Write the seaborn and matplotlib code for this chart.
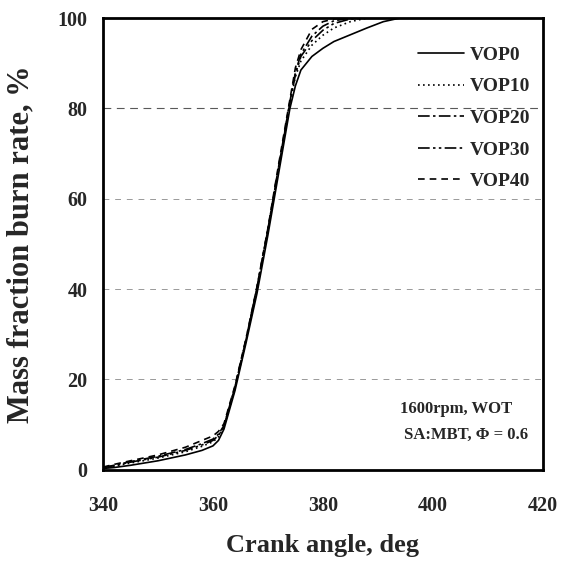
import matplotlib
matplotlib.use("Agg")
import matplotlib.pyplot as plt
import seaborn as sns
import pandas as pd

# Mass fraction burned vs crank angle
ca_vop0 = [340, 342, 345, 350, 355, 358, 360, 361, 362, 364, 366, 368, 370, 372, 374, 375, 376, 378, 380, 382, 385, 388, 391, 394]
mfb_vop0 = [0.3, 0.5, 1.0, 2.0, 3.3, 4.3, 5.3, 6.5, 9.0, 17.5, 28, 39, 52, 66, 80, 85, 88.5, 91.5, 93.3, 94.8, 96.3, 97.8, 99.2, 100]

ca_vop10 = [340, 342, 345, 350, 355, 358, 360, 361, 362, 364, 366, 368, 370, 372, 374, 375, 376, 378, 380, 382, 385, 388]
mfb_vop10 = [0.4, 0.8, 1.5, 2.6, 4.0, 5.2, 6.2, 7.3, 9.5, 18, 28.5, 40, 53, 67, 81, 87, 90.5, 94, 96.2, 97.8, 99.2, 100]

ca_vop20 = [340, 342, 345, 350, 355, 358, 360, 361, 362, 364, 366, 368, 370, 372, 374, 375, 376, 378, 380, 382, 385]
mfb_vop20 = [0.5, 1.0, 1.8, 3.0, 4.5, 5.8, 6.8, 7.9, 9.8, 18.3, 28.8, 40.3, 53.3, 67.5, 81.5, 88, 92, 96, 98.2, 99.4, 100]

ca_vop30 = [340, 342, 345, 350, 355, 358, 360, 361, 362, 364, 366, 368, 370, 372, 374, 375, 376, 378, 380, 382, 385, 388]
mfb_vop30 = [0.45, 0.9, 1.7, 2.8, 4.3, 5.5, 6.5, 7.6, 9.6, 18.2, 28.7, 40.2, 53.2, 67.3, 81.3, 87.5, 91.5, 95, 97.3, 98.8, 99.8, 100]

ca_vop40 = [340, 342, 345, 350, 355, 358, 360, 361, 362, 364, 366, 368, 370, 372, 374, 375, 376, 378, 380, 382, 384]
mfb_vop40 = [0.6, 1.2, 2.0, 3.3, 5.0, 6.5, 7.5, 8.5, 10.2, 18.6, 29, 40.5, 53.5, 68, 82, 89, 93, 97.5, 99.2, 99.8, 100]

labels = ["VOP0", "VOP10", "VOP20", "VOP30", "VOP40"]
dashes = [None, (1, 2), (7, 2, 1.5, 2), (7, 2, 1.5, 2, 1.5, 2), (4, 3)]

frames = []
for lab, ca, mfb in zip(labels,
                        [ca_vop0, ca_vop10, ca_vop20, ca_vop30, ca_vop40],
                        [mfb_vop0, mfb_vop10, mfb_vop20, mfb_vop30, mfb_vop40]):
    frames.append(pd.DataFrame({"ca": ca, "mfb": mfb, "case": lab}))
df = pd.concat(frames, ignore_index=True)

sns.set_style("white")
plt.rcParams['font.family'] = ['Liberation Serif', 'DejaVu Serif']

fig = plt.figure(figsize=(5.66, 5.64), dpi=100)
ax = fig.add_axes([0.182, 0.167, 0.777, 0.801])

# gridlines
for yv in [20, 40, 60]:
    ax.axhline(yv, color='0.6', linestyle=(0, (6, 6)), linewidth=0.7, zorder=0)
ax.axhline(80, color='0.35', linestyle=(0, (7, 5)), linewidth=0.8, zorder=0)

for lab, d in zip(labels, dashes):
    sub = df[df.case == lab]
    sns.lineplot(data=sub, x="ca", y="mfb", ax=ax, color='black', linewidth=1.2,
                 label=lab, sort=False)
    if d is not None:
        ax.get_lines()[-1].set_dashes(d)

ax.set_xlim(340, 420)
ax.set_ylim(0, 100)
ax.set_xticks([340, 360, 380, 400, 420])
ax.set_yticks([0, 20, 40, 60, 80, 100])
ax.tick_params(axis='both', direction='in', length=4, color='0.5', width=0.8,
               labelsize=14.5)
ax.tick_params(axis='x', pad=19)
ax.tick_params(axis='y', pad=11)
for t in ax.get_xticklabels() + ax.get_yticklabels():
    t.set_fontweight('bold')

for s in ax.spines.values():
    s.set_linewidth(2)
    s.set_color('black')

ax.set_xlabel("Crank angle, deg", fontsize=19, fontweight='bold', labelpad=13)
ax.set_ylabel("Mass fraction burn rate, %", fontsize=22, fontweight='bold', labelpad=16)

ax.text(0.93, 0.135, "1600rpm, WOT", transform=ax.transAxes, ha='right',
        va='center', fontsize=12, fontweight='bold')
ax.text(0.966, 0.078, "SA:MBT, Φ = 0.6", transform=ax.transAxes, ha='right',
        va='center', fontsize=12, fontweight='bold')

leg = ax.legend(loc='upper right', frameon=False, handlelength=2.4,
                handletextpad=0.3, labelspacing=0.72, borderaxespad=0,
                prop={'family': 'Liberation Serif', 'weight': 'bold', 'size': 14},
                bbox_to_anchor=(0.99, 0.955))

fig.savefig("out.png", dpi=100)
